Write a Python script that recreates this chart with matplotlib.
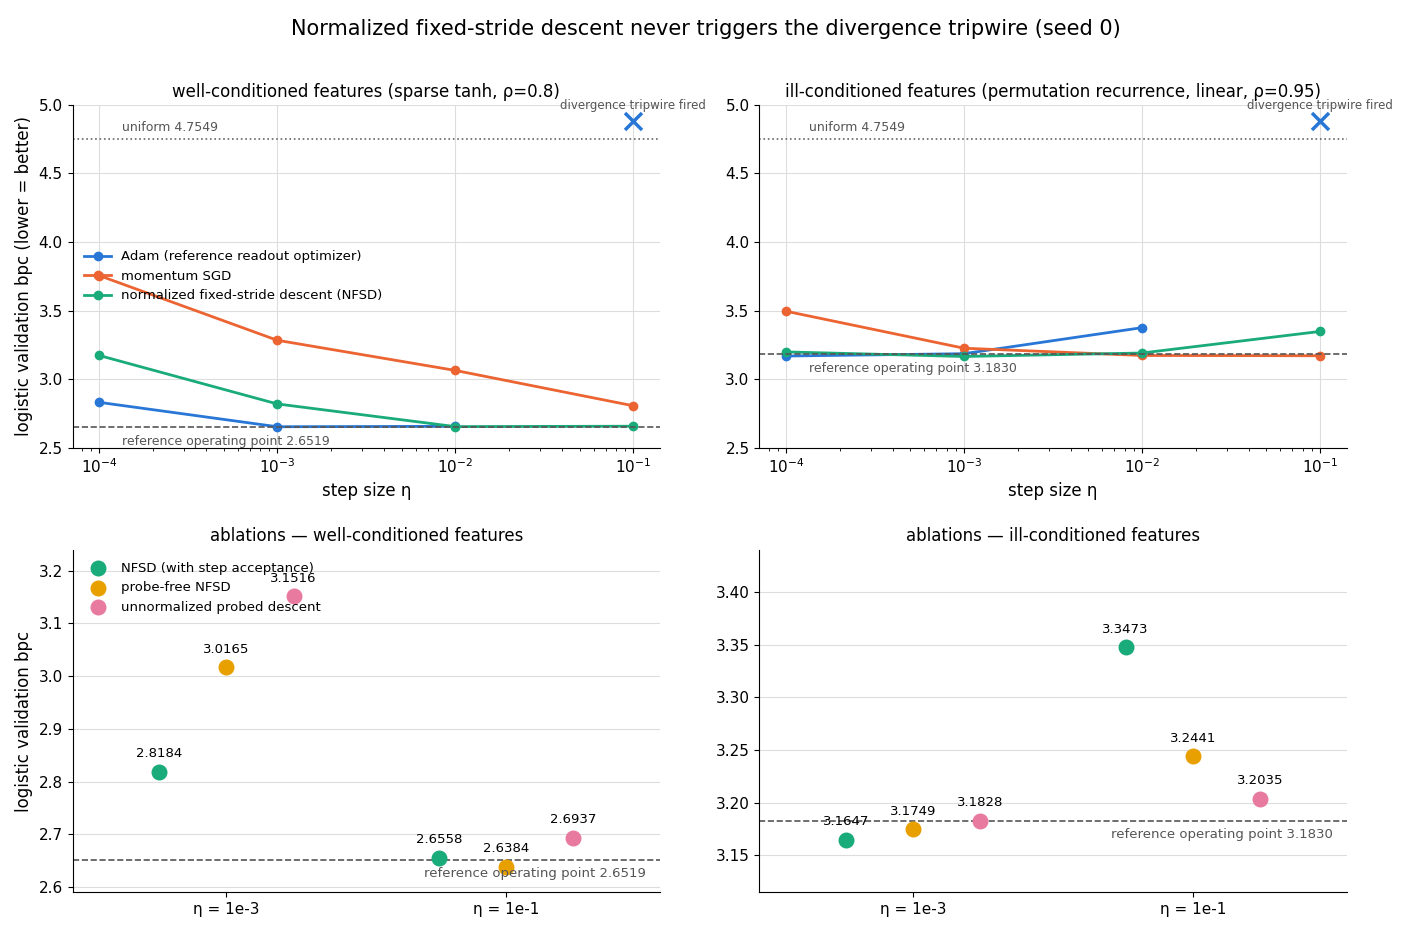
import matplotlib
matplotlib.use("Agg")
import matplotlib.pyplot as plt
import numpy as np

etas = [1e-4, 1e-3, 1e-2, 1e-1]
well_adam = [2.83, 2.652, 2.655, np.nan]
well_mom = [3.755, 3.283, 3.063, 2.805]
well_nfsd = [3.172, 2.8184, 2.653, 2.6558]
ill_adam = [3.168, 3.185, 3.375, np.nan]
ill_mom = [3.495, 3.225, 3.172, 3.17]
ill_nfsd = [3.198, 3.1647, 3.19, 3.3473]
uniform = 4.7549
ref_well = 2.6519
ref_ill = 3.1830

abl_labels = ["η = 1e-3", "η = 1e-1"]
abl_names = ["NFSD (with step acceptance)", "probe-free NFSD", "unnormalized probed descent"]
abl_well = [[2.8184, 2.6558], [3.0165, 2.6384], [3.1516, 2.6937]]
abl_ill = [[3.1647, 3.3473], [3.1749, 3.2441], [3.1828, 3.2035]]

cb, co, cg, cp, cy = "#2877d6", "#eb6432", "#1aab7a", "#e87aa0", "#e8a000"

fig, axs = plt.subplots(2, 2, figsize=(14.12, 9.32), dpi=100)
fig.suptitle("Normalized fixed-stride descent never triggers the divergence tripwire (seed 0)", fontsize=15)

def top(ax, adam, mom, nfsd, ref, title, legend):
    ax.plot(etas, adam, "-o", color=cb, lw=2, ms=6, label="Adam (reference readout optimizer)")
    ax.plot(etas, mom, "-o", color=co, lw=2, ms=6, label="momentum SGD")
    ax.plot(etas, nfsd, "-o", color=cg, lw=2, ms=6, label="normalized fixed-stride descent (NFSD)")
    ax.set_xscale("log")
    ax.set_ylim(2.5, 5.0)
    ax.axhline(uniform, color="#666", ls=":", lw=1.2)
    ax.text(1.35e-4, uniform + 0.03, f"uniform {uniform:.4f}", fontsize=9, color="#555", va="bottom")
    ax.axhline(ref, color="#555", ls="--", lw=1.2)
    ax.text(1.35e-4, ref - 0.06, f"reference operating point {ref:.4f}", fontsize=9, color="#555", va="top")
    ax.scatter([1e-1], [4.88], marker="x", s=150, color=cb, lw=2.5, zorder=5)
    ax.text(1e-1, 4.95, "divergence tripwire fired", fontsize=8.5, color="#555", ha="center", va="bottom")
    ax.set_title(title, fontsize=12)
    ax.set_xlabel("step size η", fontsize=12)
    ax.grid(True, color="#ddd", lw=0.8)
    ax.set_axisbelow(True)
    for s in ["top", "right"]:
        ax.spines[s].set_visible(False)
    ax.tick_params(labelsize=11)
    if legend:
        ax.legend(loc="center left", bbox_to_anchor=(0.0, 0.5), frameon=False, fontsize=9.5)

top(axs[0, 0], well_adam, well_mom, well_nfsd, ref_well,
    "well-conditioned features (sparse tanh, ρ=0.8)", True)
top(axs[0, 1], ill_adam, ill_mom, ill_nfsd, ref_ill,
    "ill-conditioned features (permutation recurrence, linear, ρ=0.95)", False)
axs[0, 0].set_ylabel("logistic validation bpc (lower = better)", fontsize=12)

def abl(ax, vals, ref, title, ylim, legend, off):
    cols = [cg, cy, cp]
    offs = [-0.24, 0.0, 0.24]
    x = np.arange(2)
    for i in range(3):
        ax.scatter(x + offs[i], vals[i], s=110, color=cols[i], label=abl_names[i], zorder=3)
        for xi, v in zip(x + offs[i], vals[i]):
            ax.text(xi, v + off, f"{v:.4f}", ha="center", va="bottom", fontsize=9.5)
    ax.axhline(ref, color="#555", ls="--", lw=1.2)
    ax.text(1.5, ref - off * 0.6, f"reference operating point {ref:.4f}", fontsize=9.5, color="#555", ha="right", va="top")
    ax.set_xticks(x)
    ax.set_xticklabels(abl_labels)
    ax.set_xlim(-0.55, 1.55)
    ax.set_ylim(*ylim)
    ax.set_title(title, fontsize=12)
    ax.grid(True, axis="y", color="#ddd", lw=0.8)
    ax.set_axisbelow(True)
    for s in ["top", "right"]:
        ax.spines[s].set_visible(False)
    ax.tick_params(labelsize=11)
    if legend:
        ax.legend(loc="upper left", frameon=False, fontsize=9.5)

abl(axs[1, 0], abl_well, ref_well, "ablations — well-conditioned features", (2.59, 3.24), True, 0.022)
abl(axs[1, 1], abl_ill, ref_ill, "ablations — ill-conditioned features", (3.115, 3.44), False, 0.011)
axs[1, 0].set_ylabel("logistic validation bpc", fontsize=12)
axs[1, 0].set_yticks(np.arange(2.6, 3.21, 0.1))
axs[1, 1].set_yticks(np.arange(3.15, 3.41, 0.05))

plt.tight_layout(rect=[0, 0, 1, 0.965], h_pad=2.0)
fig.savefig("out.png", dpi=100)
